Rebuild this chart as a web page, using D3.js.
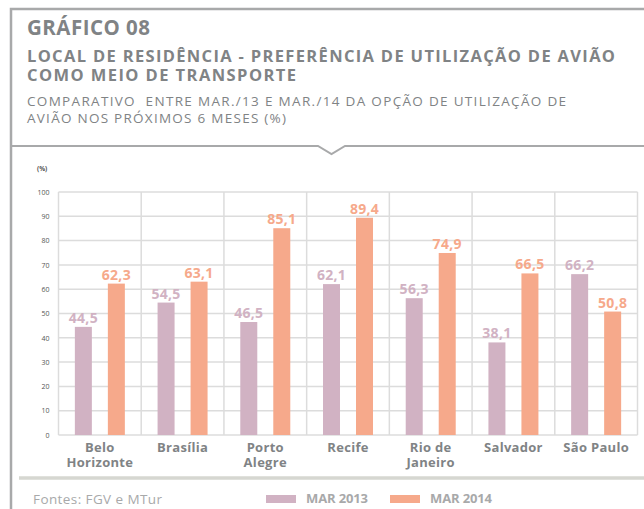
<!DOCTYPE html>
<html>
<head>
<meta charset="utf-8">
<script src="https://cdn.jsdelivr.net/npm/d3@7"></script>
<style>
  body { margin: 0; background: #fff; }
  text { font-family: "Open Sans", sans-serif; }
</style>
</head>
<body>
<svg id="chart" width="644" height="509"></svg>
<script>
var cities = ["Belo Horizonte", "Brasília", "Porto Alegre", "Recife", "Rio de Janeiro", "Salvador", "São Paulo"];
var cityLines = [["Belo", "Horizonte"], ["Brasília"], ["Porto", "Alegre"], ["Recife"], ["Rio de", "Janeiro"], ["Salvador"], ["São Paulo"]];
var mar2013 = [44.5, 54.5, 46.5, 62.1, 56.3, 38.1, 66.2];
var mar2014 = [62.3, 63.1, 85.1, 89.4, 74.9, 66.5, 50.8];
var seriesNames = ["MAR 2013", "MAR 2014"];
var yTicks = [0, 10, 20, 30, 40, 50, 60, 70, 80, 90, 100];

var colors = ["#d1b2c3", "#f6a98b"];
var frameColor = "#a8a9aa";
var textGrey = "#808385";
var gridColor = "#dcdcdc";

var svg = d3.select("#chart");

// stretch a text with letter-spacing so it spans the wanted width
function fitWidth(sel, target) {
  sel.each(function () {
    var len = this.getComputedTextLength();
    var n = this.textContent.length;
    if (n > 1) d3.select(this).attr("letter-spacing", (target - len) / (n - 1));
  });
}

// frame
svg.append("path")
  .attr("d", "M11,509 V9 H644")
  .attr("fill", "none")
  .attr("stroke", frameColor)
  .attr("stroke-width", 2.5);

// header separator with the little notch
svg.append("path")
  .attr("d", "M11,146 H318 L331.5,154 L345,146 H644")
  .attr("fill", "none")
  .attr("stroke", frameColor)
  .attr("stroke-width", 2);

// titles
var titles = [
  { t: "GRÁFICO 08", y: 35, size: 20.5, w: 700, width: 123 },
  { t: "LOCAL DE RESIDÊNCIA - PREFERÊNCIA DE UTILIZAÇÃO DE AVIÃO", y: 62, size: 16.5, w: 700, width: 588 },
  { t: "COMO MEIO DE TRANSPORTE", y: 80.5, size: 16.5, w: 700, width: 269 },
  { t: "COMPARATIVO  ENTRE MAR./13 E MAR./14 DA OPÇÃO DE UTILIZAÇÃO DE", y: 106, size: 13.5, w: 400, width: 539 },
  { t: "AVIÃO NOS PRÓXIMOS 6 MESES (%)", y: 122.5, size: 13.5, w: 400, width: 259 }
];
svg.selectAll(".title")
  .data(titles)
  .enter()
  .append("text")
  .attr("class", "title")
  .attr("x", 27)
  .attr("y", function (d) { return d.y; })
  .attr("font-size", function (d) { return d.size; })
  .attr("font-weight", function (d) { return d.w; })
  .attr("fill", textGrey)
  .style("white-space", "pre")
  .text(function (d) { return d.t; })
  .each(function (d) { fitWidth(d3.select(this), d.width); });

// chart
var plot = { left: 58.5, right: 637.5, top: 192, bottom: 435 };

var x = d3.scaleBand()
  .domain(cities)
  .range([plot.left, plot.right])
  .padding(0);

var y = d3.scaleLinear()
  .domain([0, 100])
  .range([plot.bottom, plot.top]);

var g = svg.append("g");

// horizontal grid
g.selectAll(".hgrid")
  .data(yTicks)
  .enter()
  .append("line")
  .attr("x1", plot.left)
  .attr("x2", plot.right)
  .attr("y1", function (d) { return y(d); })
  .attr("y2", function (d) { return y(d); })
  .attr("stroke", gridColor)
  .attr("stroke-width", 1.5);

// vertical grid at the category edges
var edges = cities.map(function (c) { return x(c); }).concat([plot.right]);
g.selectAll(".vgrid")
  .data(edges)
  .enter()
  .append("line")
  .attr("x1", function (d) { return d; })
  .attr("x2", function (d) { return d; })
  .attr("y1", plot.top)
  .attr("y2", plot.bottom)
  .attr("stroke", gridColor)
  .attr("stroke-width", 1.5);

// y axis labels
var yAxis = d3.axisLeft(y).tickValues(yTicks).tickSize(0).tickPadding(9);
var ya = svg.append("g")
  .attr("transform", "translate(" + plot.left + ",0)")
  .call(yAxis);
ya.select(".domain").remove();
ya.selectAll("text")
  .attr("font-size", 7)
  .attr("fill", "#555")
  .style("font-family", "'Open Sans', sans-serif");

svg.append("text")
  .attr("x", 37)
  .attr("y", 171)
  .attr("font-size", 6.5)
  .attr("font-weight", 700)
  .attr("fill", "#555")
  .text("(%)");

// bars
var offsets = [-16.5, 16.5];
var barW = 17;
[mar2013, mar2014].forEach(function (vals, s) {
  var bars = svg.append("g");
  bars.selectAll("rect")
    .data(vals)
    .enter()
    .append("rect")
    .attr("x", function (d, i) { return x(cities[i]) + x.bandwidth() / 2 + offsets[s] - barW / 2; })
    .attr("y", function (d) { return y(d); })
    .attr("width", barW)
    .attr("height", function (d) { return y(0) - y(d); })
    .attr("fill", colors[s]);

  bars.selectAll("text")
    .data(vals)
    .enter()
    .append("text")
    .attr("x", function (d, i) { return x(cities[i]) + x.bandwidth() / 2 + offsets[s]; })
    .attr("y", function (d) { return y(d) - 4; })
    .attr("text-anchor", "middle")
    .attr("font-size", 14)
    .attr("font-weight", 700)
    .attr("letter-spacing", 0.3)
    .attr("fill", colors[s])
    .text(function (d) { return d3.format(".1f")(d).replace(".", ","); });
});

// x labels, one text per line
var labelLines = [];
cityLines.forEach(function (lines, i) {
  lines.forEach(function (line, k) {
    labelLines.push({ city: cities[i], text: line, row: k });
  });
});
svg.append("g")
  .selectAll("text")
  .data(labelLines)
  .enter()
  .append("text")
  .attr("x", function (d) { return x(d.city) + x.bandwidth() / 2; })
  .attr("y", function (d) { return 451.5 + d.row * 15; })
  .attr("text-anchor", "middle")
  .attr("font-size", 13)
  .attr("font-weight", 700)
  .attr("letter-spacing", 0.3)
  .attr("fill", textGrey)
  .text(function (d) { return d.text; });

// bottom separator
svg.append("line")
  .attr("x1", 19)
  .attr("x2", 644)
  .attr("y1", 478)
  .attr("y2", 478)
  .attr("stroke", "#d6d7d1")
  .attr("stroke-width", 3.5);

// footer
svg.append("text")
  .attr("x", 33)
  .attr("y", 504)
  .attr("font-size", 13.5)
  .attr("fill", "#a8a9aa")
  .text("Fontes: FGV e MTur")
  .call(fitWidth, 129);

var legendX = [266, 390];
var legend = svg.selectAll(".legend")
  .data(seriesNames)
  .enter()
  .append("g")
  .attr("transform", function (d, i) { return "translate(" + legendX[i] + ",495)"; });
legend.append("rect")
  .attr("width", 30)
  .attr("height", 8)
  .attr("fill", function (d, i) { return colors[i]; });
legend.append("text")
  .attr("x", 40)
  .attr("y", 8)
  .attr("font-size", 13)
  .attr("font-weight", 700)
  .attr("fill", "#a8a9aa")
  .text(function (d) { return d; })
  .call(fitWidth, 62);
</script>
</body>
</html>
